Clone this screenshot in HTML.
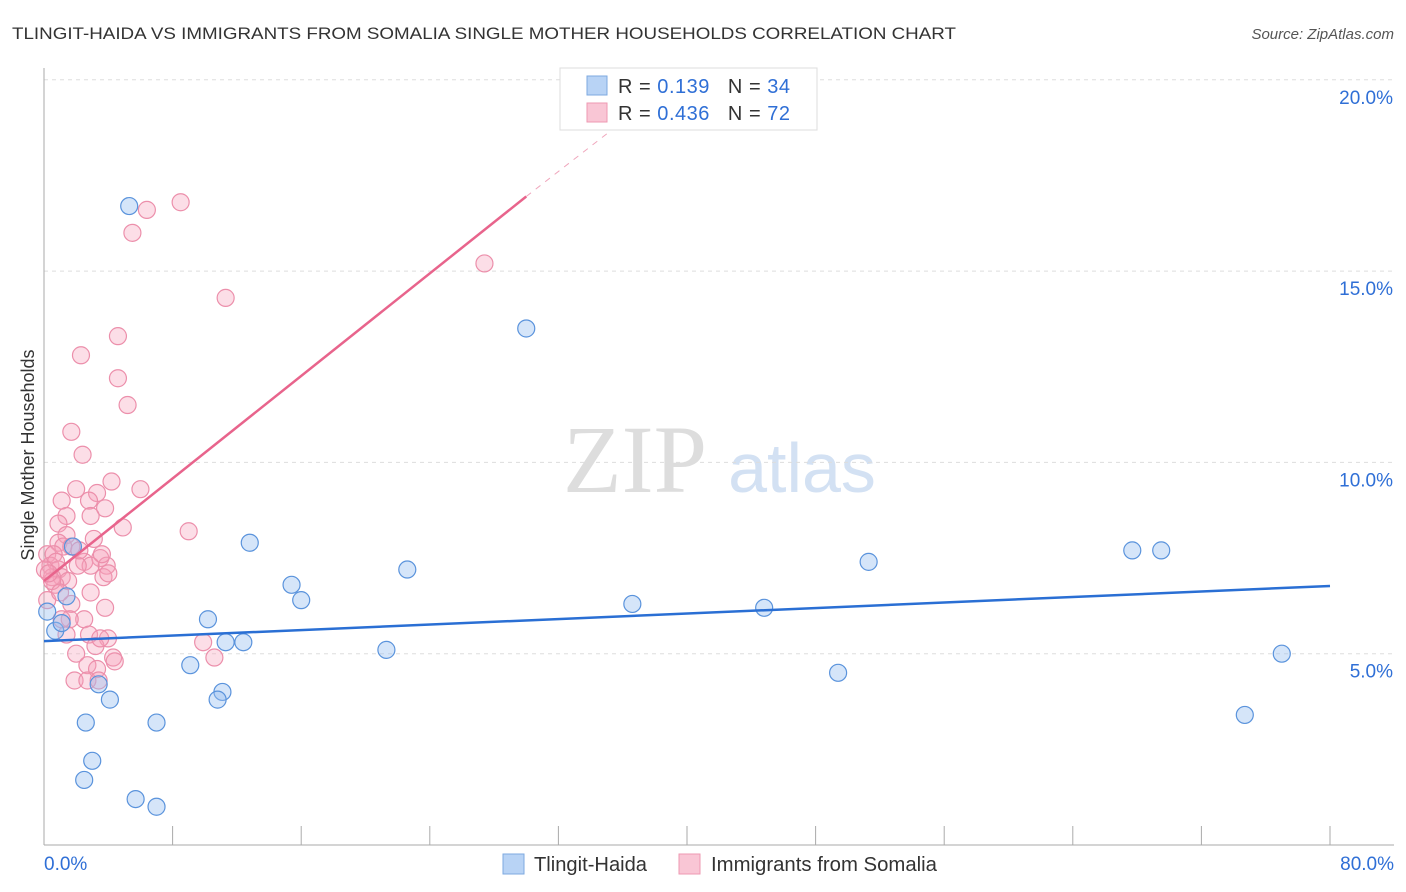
<!DOCTYPE html>
<html><head><meta charset="utf-8"><style>
body{margin:0;background:#fff;font-family:"Liberation Sans",sans-serif;}
#wrap{position:relative;width:1406px;height:892px;overflow:hidden;}
</style></head><body>
<div id="wrap">
<svg id="svg" width="1406" height="892" xmlns="http://www.w3.org/2000/svg">
<text x="12" y="39" font-size="17" fill="#333" textLength="944" lengthAdjust="spacingAndGlyphs">TLINGIT-HAIDA VS IMMIGRANTS FROM SOMALIA SINGLE MOTHER HOUSEHOLDS CORRELATION CHART</text>
<text x="1394" y="39" font-size="15" fill="#555" text-anchor="end" font-style="italic">Source: ZipAtlas.com</text>
<text x="635" y="492" font-size="96" fill="#ddd" font-family="Liberation Serif" text-anchor="middle">ZIP</text>
<text x="802" y="492" font-size="70" fill="#d3e1f3" text-anchor="middle">atlas</text>
<text transform="translate(34,455) rotate(-90)" font-size="18" fill="#333" text-anchor="middle">Single Mother Households</text>
<g id="grid"></g><g id="marks"></g>
<g>
<rect x="560" y="68" width="257" height="62" fill="#fff" stroke="#ddd"/>
<rect x="587" y="76" width="20" height="19" fill="#b8d3f5" stroke="#7ea9e0"/>
<rect x="587" y="103" width="20" height="19" fill="#f9c6d5" stroke="#ee98b2"/>
<text x="618" y="93" font-size="20" fill="#333" textLength="172" lengthAdjust="spacing">R = <tspan fill="#2f6fd6"> 0.139</tspan><tspan dx="18">N = </tspan><tspan fill="#2f6fd6">34</tspan></text>
<text x="618" y="120" font-size="20" fill="#333" textLength="172" lengthAdjust="spacing">R = <tspan fill="#2f6fd6">0.436</tspan><tspan dx="18">N = </tspan><tspan fill="#2f6fd6">72</tspan></text>
</g>
<g>
<rect x="503" y="854" width="21" height="20" fill="#b8d3f5" stroke="#7ea9e0"/>
<text x="534" y="871" font-size="20" fill="#333" textLength="113" lengthAdjust="spacingAndGlyphs">Tlingit-Haida</text>
<rect x="679" y="854" width="21" height="20" fill="#f9c6d5" stroke="#ee98b2"/>
<text x="711" y="871" font-size="20" fill="#333" textLength="226" lengthAdjust="spacingAndGlyphs">Immigrants from Somalia</text>
</g>
</svg></div>
<script>
const yTicks=[5,10,15,20];
const xTickLabels=["0.0%","80.0%"];
const blueX=[5.3,30.0,1.8,12.8,22.6,51.3,67.7,69.5,15.4,16.0,36.6,44.8,10.2,1.4,0.7,1.1,11.3,12.4,21.3,9.1,77.0,49.4,11.1,10.8,3.4,4.1,2.6,7.0,74.7,3.0,2.5,5.7,7.0,0.2];
const blueY=[16.7,13.5,7.8,7.9,7.2,7.4,7.7,7.7,6.8,6.4,6.3,6.2,5.9,6.5,5.6,5.8,5.3,5.3,5.1,4.7,5.0,4.5,4.0,3.8,4.2,3.8,3.2,3.2,3.4,2.2,1.7,1.2,1.0,6.1];
const pinkX=[8.5,6.4,5.5,27.4,11.3,4.6,2.3,4.6,5.2,1.7,2.4,4.2,6.0,1.1,2.0,3.3,2.8,3.8,1.4,0.9,2.9,9.0,4.9,1.4,0.9,1.2,1.7,0.2,0.6,0.4,0.9,1.1,2.5,3.5,2.9,3.9,2.1,3.7,4.0,1.5,0.5,0.7,2.9,1.7,3.8,0.2,2.5,1.6,2.8,3.98,9.9,1.4,3.2,2.0,10.6,4.3,2.7,4.4,3.3,1.9,2.7,3.4,0.5,0.75,1.0,0.06,0.3,3.5,1.1,2.2,3.1,3.6];
const pinkY=[16.8,16.6,16.0,15.2,14.3,13.3,12.8,12.2,11.5,10.8,10.2,9.5,9.3,9.0,9.3,9.2,9.0,8.8,8.6,8.4,8.6,8.2,8.3,8.1,7.9,7.8,7.8,7.6,7.6,7.3,7.2,7.0,7.4,7.5,7.3,7.3,7.3,7.0,7.1,6.9,7.0,6.8,6.6,6.3,6.2,6.4,5.9,5.9,5.5,5.4,5.3,5.5,5.2,5.0,4.9,4.9,4.7,4.8,4.6,4.3,4.3,4.3,6.9,7.4,6.6,7.2,7.1,5.4,5.9,7.7,8.0,7.6];
const blueTrend=[[0,5.33],[80,6.77]];
const pinkTrend=[[0,6.9],[30,16.95]];
const pinkTrendDash=[[30,16.95],[35.2,18.65]];
const X=v=>44+v*16.075, Y=v=>845-v*38.26;
const NS="http://www.w3.org/2000/svg";
const grid=document.getElementById('grid'), marks=document.getElementById('marks');
function mk(tag,attrs,parent){const e=document.createElementNS(NS,tag);for(const k in attrs)e.setAttribute(k,attrs[k]);parent.appendChild(e);return e;}
yTicks.forEach(t=>{
 const l=mk('line',{x1:44,x2:1394,y1:Y(t),y2:Y(t),stroke:'#ddd','stroke-dasharray':'4,4'},grid);
 
 
 const tx=mk('text',{x:1393,y:Y(t)+24,'font-size':19,fill:'#2f6fd6','text-anchor':'end'},grid);
 tx.textContent=t.toFixed(1)+'%';
 
 
});
const ax=mk('line',{x1:44,x2:44,y1:68,y2:845,stroke:'#aaa'},grid);


const bx=mk('line',{x1:44,x2:1394,y1:845,y2:845,stroke:'#aaa'},grid);


for(let i=1;i<=10;i++){const t=mk('line',{x1:X(i*8),x2:X(i*8),y1:826,y2:845,stroke:'#aaa'},grid);
 
 }
[[0,'start',44],[80,'end',1394]].forEach((d,i)=>{const t=mk('text',{x:d[2],y:870,'font-size':19,fill:'#2f6fd6','text-anchor':d[1]},grid);
 t.textContent=xTickLabels[i];
 
 });
pinkX.forEach((x,i)=>{const c=mk('circle',{cx:X(x),cy:Y(pinkY[i]),r:8.5,fill:'rgba(245,160,185,0.35)',stroke:'#ec8fab','stroke-width':1.2},marks);
 
 });
blueX.forEach((x,i)=>{const c=mk('circle',{cx:X(x),cy:Y(blueY[i]),r:8.5,fill:'rgba(150,190,240,0.4)',stroke:'#5a93dc','stroke-width':1.2},marks);
 
 });
function line(p,col,dash,name){const l=mk('line',{x1:X(p[0][0]),y1:Y(p[0][1]),x2:X(p[1][0]),y2:Y(p[1][1]),stroke:col,'stroke-width':dash?1:2.5},marks);
 if(dash)l.setAttribute('stroke-dasharray','6,6');
 
 }
line(blueTrend,'#2a6fd4',false,'tlingit-haida-trendline');
line(pinkTrend,'#e8648c',false,'somalia-trendline');
line(pinkTrendDash,'#f0a6bc',true,'somalia-trendline-extension');
</script></body></html>
